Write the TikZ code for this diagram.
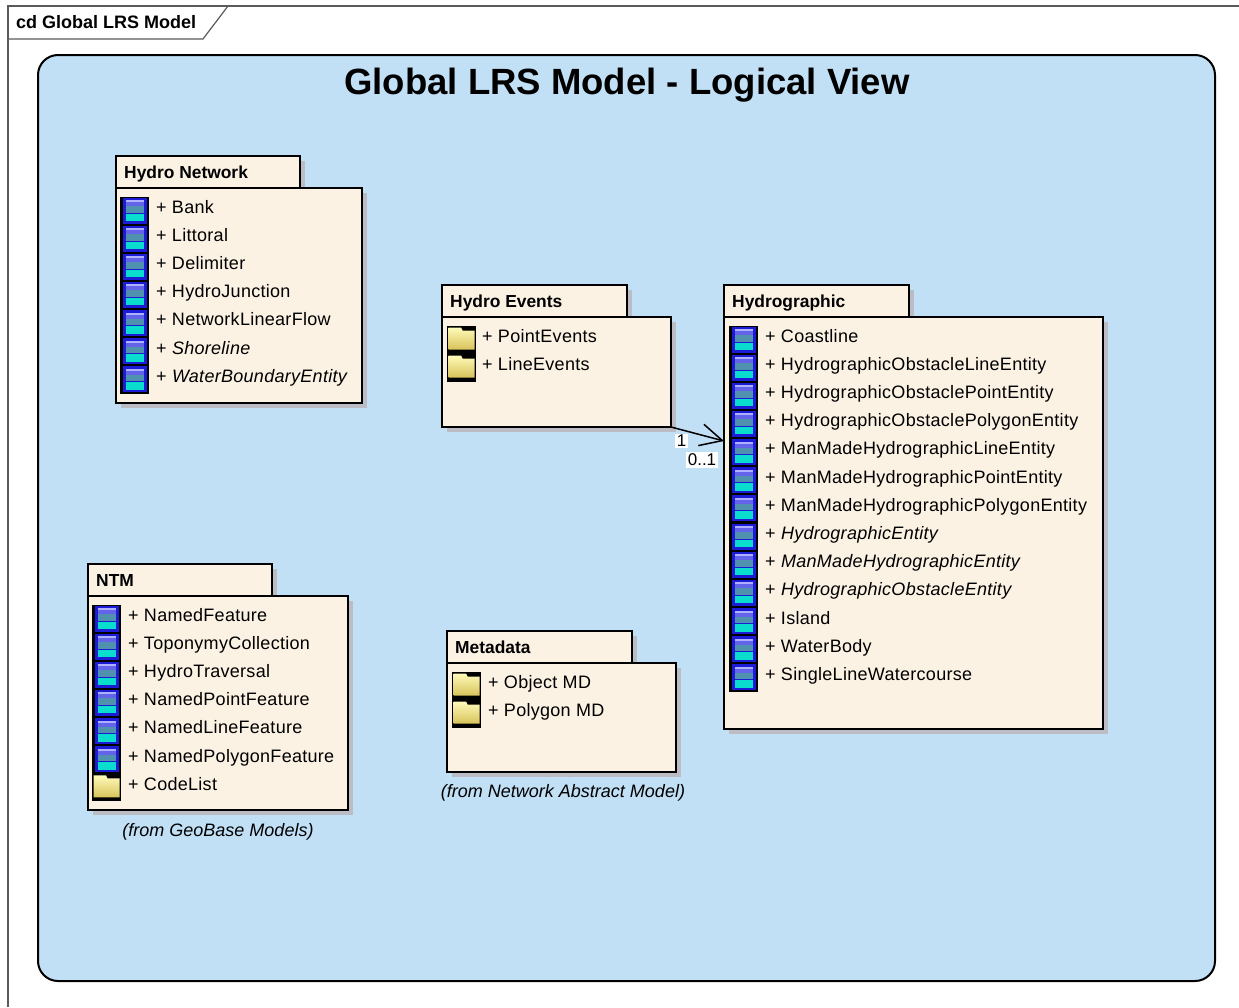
\documentclass[tikz,border=0pt]{standalone}
\usepackage{fontspec}
\setmainfont{Liberation Sans}
\newfontfamily\itemfont[LetterSpace=1.6]{Liberation Sans}
\usetikzlibrary{arrows.meta,calc}
\definecolor{bgblue}{RGB}{193,223,245}
\definecolor{cream}{RGB}{251,242,228}
\definecolor{shadowc}{RGB}{188,188,196}
\definecolor{framec}{RGB}{90,90,90}
\definecolor{icblue}{RGB}{28,28,215}
\definecolor{iclav}{RGB}{175,175,255}
\definecolor{icpur}{RGB}{100,100,235}
\definecolor{icmid}{RGB}{80,145,175}
\definecolor{icteal}{RGB}{10,220,205}
\definecolor{fyl1}{RGB}{255,250,185}
\definecolor{fyl2}{RGB}{215,195,90}
\newcommand\clsicon[2]{%
  \fill[icblue] ({#1+3},{#2+0.5}) rectangle ({#1+26.5},{#2+26.5});
  \fill[iclav] ({#1+6},{#2+3}) rectangle ({#1+23.5},{#2+5});
  \fill[icpur] ({#1+6},{#2+5}) rectangle ({#1+23.5},{#2+9});
  \fill[icmid] ({#1+6},{#2+9}) rectangle ({#1+23.5},{#2+15.5});
  \fill[icteal] ({#1+6},{#2+16.5}) rectangle ({#1+23.5},{#2+24});
}
\newcommand\foldicon[2]{%
  \shade[top color=fyl1, bottom color=fyl2] ({#1+1.5},{#2+1.5}) -- ({#1+14},{#2+1.5}) -- ({#1+15.5},{#2+4.5}) -- ({#1+27.5},{#2+4.5}) -- ({#1+27.5},{#2+23.5}) -- ({#1+1.5},{#2+23.5}) -- cycle;
}
% #1 name, #2 x, #3 y, #4 tab width, #5 body width, #6 body height, #7 header
\newcommand\pkgbox[7]{%
  \fill[shadowc] ({#2+5},{#3+5}) rectangle ({#2+#4+5},{#3+37});
  \fill[shadowc] ({#2+5},{#3+37}) rectangle ({#2+#5+5},{#3+32+#6+5});
  \node[pkgshape, minimum width=#5, minimum height=#6, anchor=north west] (#1) at (#2,{#3+32}) {};
  \node[pkgshape, minimum width=#4, minimum height=32, anchor=north west] (#1tab) at (#2,#3) {};
  \node[hdr, anchor=base west] (#1hdr) at ({#2+8},{#3+22}) {#7};
}
\tikzset{
  pkgshape/.style={draw=black, line width=1.5pt, fill=cream, inner sep=0pt, outer sep=0pt},
  hdr/.style={font=\fontsize{17.4}{19}\selectfont\bfseries, inner sep=0pt},
  item/.style={font=\itemfont\fontsize{18}{20}\selectfont, inner sep=0pt, anchor=base west},
  fromtxt/.style={font=\fontsize{18}{20}\selectfont\itshape, inner sep=0pt, anchor=base},
  mult/.style={font=\fontsize{17}{19}\selectfont, fill=white, inner sep=1.5pt},
}
\begin{document}
\begin{tikzpicture}[x=1pt,y=-1pt]
\useasboundingbox (0,0) rectangle (1239,1007);
\fill[white] (0,0) rectangle (1239,1007);
% frame
\draw[framec, line width=1.2pt] (8,1007) -- (8,6) -- (1239,6);
\draw[framec, line width=1.2pt] (8,39) -- (203,39) -- (228,6);
\node[font=\fontsize{18}{20}\selectfont\bfseries, inner sep=0pt, anchor=base west] (frametitle) at (16,28) {cd Global LRS Model};
% view
\node[draw=black, line width=2pt, fill=bgblue, rounded corners=20pt, minimum width=1177, minimum height=926, anchor=north west, inner sep=0pt] (view) at (37,54) {};
\node[font=\fontsize{36.5}{40}\selectfont\bfseries, inner sep=0pt, anchor=base] (title) at (627,94) {Global LRS Model - Logical View};

% Hydro Network
\pkgbox{hn}{116}{156}{184}{246}{215}{Hydro Network}
\fill[black] (120,197) rectangle (149,394);
\foreach \i in {0,...,6} {\clsicon{120}{197+28.15*\i}}
\foreach \t [count=\i from 0] in {Bank,Littoral,Delimiter,HydroJunction,NetworkLinearFlow,\textit{Shoreline},\textit{WaterBoundaryEntity}}
  \node[item] (hn\i) at (156,{213+28.2*\i}) {+ \t};

% Hydro Events
\pkgbox{he}{442}{285}{185}{229}{110}{Hydro Events}
\fill[black] (447,326) rectangle (476,382);
\foreach \i in {0,1} {\foldicon{447}{326+28*\i}}
\foreach \t [count=\i from 0] in {PointEvents,LineEvents}
  \node[item] (he\i) at (482,{342+28.2*\i}) {+ \t};

% Hydrographic
\pkgbox{hg}{724}{285}{185}{379}{412}{Hydrographic}
\fill[black] (729,326) rectangle (758,692);
\foreach \i in {0,...,12} {\clsicon{729}{326+28.15*\i}}
\foreach \t [count=\i from 0] in {Coastline,HydrographicObstacleLineEntity,HydrographicObstaclePointEntity,HydrographicObstaclePolygonEntity,ManMadeHydrographicLineEntity,ManMadeHydrographicPointEntity,ManMadeHydrographicPolygonEntity,\textit{HydrographicEntity},\textit{ManMadeHydrographicEntity},\textit{HydrographicObstacleEntity},Island,WaterBody,SingleLineWatercourse}
  \node[item] (hg\i) at (765,{342+28.2*\i}) {+ \t};

% NTM
\pkgbox{ntm}{88}{564}{184}{260}{214}{NTM}
\fill[black] (92,605) rectangle (121,801);
\foreach \i in {0,...,5} {\clsicon{92}{605+28.15*\i}}
\foldicon{92}{605+28.15*6}
\foreach \t [count=\i from 0] in {NamedFeature,ToponymyCollection,HydroTraversal,NamedPointFeature,NamedLineFeature,NamedPolygonFeature,CodeList}
  \node[item] (ntm\i) at (128,{621+28.2*\i}) {+ \t};
\node[fromtxt] (ntmfrom) at (218,836) {(from GeoBase Models)};

% Metadata
\pkgbox{md}{447}{631}{185}{229}{109}{Metadata}
\fill[black] (452,672) rectangle (481,728);
\foreach \i in {0,1} {\foldicon{452}{672+28*\i}}
\foreach \t [count=\i from 0] in {Object MD,Polygon MD}
  \node[item] (md\i) at (488,{688+28.2*\i}) {+ \t};
\node[fromtxt] (mdfrom) at (563,797) {(from Network Abstract Model)};

% association
\coordinate (aend) at (724,441);
\draw[line width=1.5pt, -{Straight Barb[length=22pt,width=22pt,line width=1.5pt]}] (he.south east) -- (aend);
\node[mult] (m1) at (681.5,441) {1};
\node[mult] (m2) at (702,460) {0..1};
\end{tikzpicture}
\end{document}
